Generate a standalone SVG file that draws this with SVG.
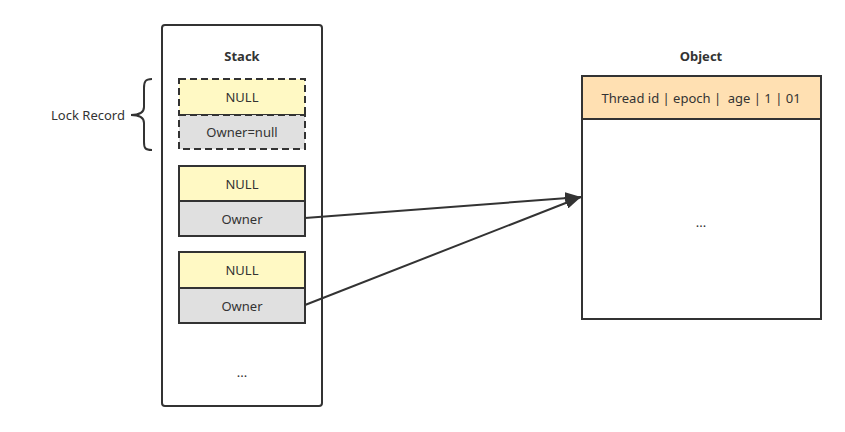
<svg xmlns="http://www.w3.org/2000/svg" width="845" height="432" viewBox="0 0 845 432">
<style>
text{font-family:"Noto Sans","Open Sans","Liberation Sans",sans-serif;font-size:13px;fill:#333;text-anchor:middle;dominant-baseline:central}
.b{font-weight:bold}
.box{stroke:#333;stroke-width:2}
.y{fill:#fff9c4}
.g{fill:#e0e0e0}
.dash{stroke-dasharray:7 4}
.ln{fill:none;stroke:#333;stroke-width:2}
</style>
<defs>
<marker id="ah2" viewBox="0 0 16 12" refX="16" refY="6" markerWidth="16" markerHeight="12" markerUnits="userSpaceOnUse" orient="auto">
<path d="M0,0 L16,6 L0,12 Z" fill="#333"/>
</marker>
</defs>
<rect width="845" height="432" fill="#fff"/>
<g id="stack">
<rect x="162" y="25" width="160" height="381" rx="3" fill="#fff" class="box"/>
<text x="242" y="56" class="b">Stack</text>
<text x="242" y="372">...</text>
</g>
<g id="lock-record-label">
<text x="88" y="115">Lock Record</text>
<path class="ln" d="M152,79 C145,79 144,82 144,88 L144,107 C144,112 140,115 131,115 C140,115 144,118 144,123 L144,142 C144,148 145,150 152,150"/>
</g>
<g id="lock-record">
<rect x="179" y="79" width="126" height="36" class="box y dash"/>
<text x="242" y="97">NULL</text>
<rect x="179" y="115" width="126" height="34" class="box g dash"/>
<text x="242" y="132">Owner=null</text>
</g>
<g id="record2">
<rect x="179" y="166" width="126" height="35" class="box y"/>
<text x="242" y="184">NULL</text>
<rect x="179" y="201" width="126" height="35" class="box g"/>
<text x="242" y="219">Owner</text>
</g>
<g id="record3">
<rect x="179" y="252" width="126" height="36" class="box y"/>
<text x="242" y="270">NULL</text>
<rect x="179" y="288" width="126" height="35" class="box g"/>
<text x="242" y="306">Owner</text>
</g>
<g id="object">
<text x="701" y="56" class="b">Object</text>
<rect x="582" y="76" width="239" height="243" fill="#fff" class="box"/>
<rect x="582" y="76" width="239" height="43" fill="#ffe0b2" class="box"/>
<text x="701" y="98" xml:space="preserve">Thread id | epoch |  age | 1 | 01</text>
<text x="701" y="222">...</text>
</g>
<g id="connectors">
<line x1="305" y1="218" x2="581" y2="197" class="ln" marker-end="url(#ah2)"/>
<line x1="305" y1="305" x2="581" y2="197" class="ln" marker-end="url(#ah2)"/>
</g>
</svg>
